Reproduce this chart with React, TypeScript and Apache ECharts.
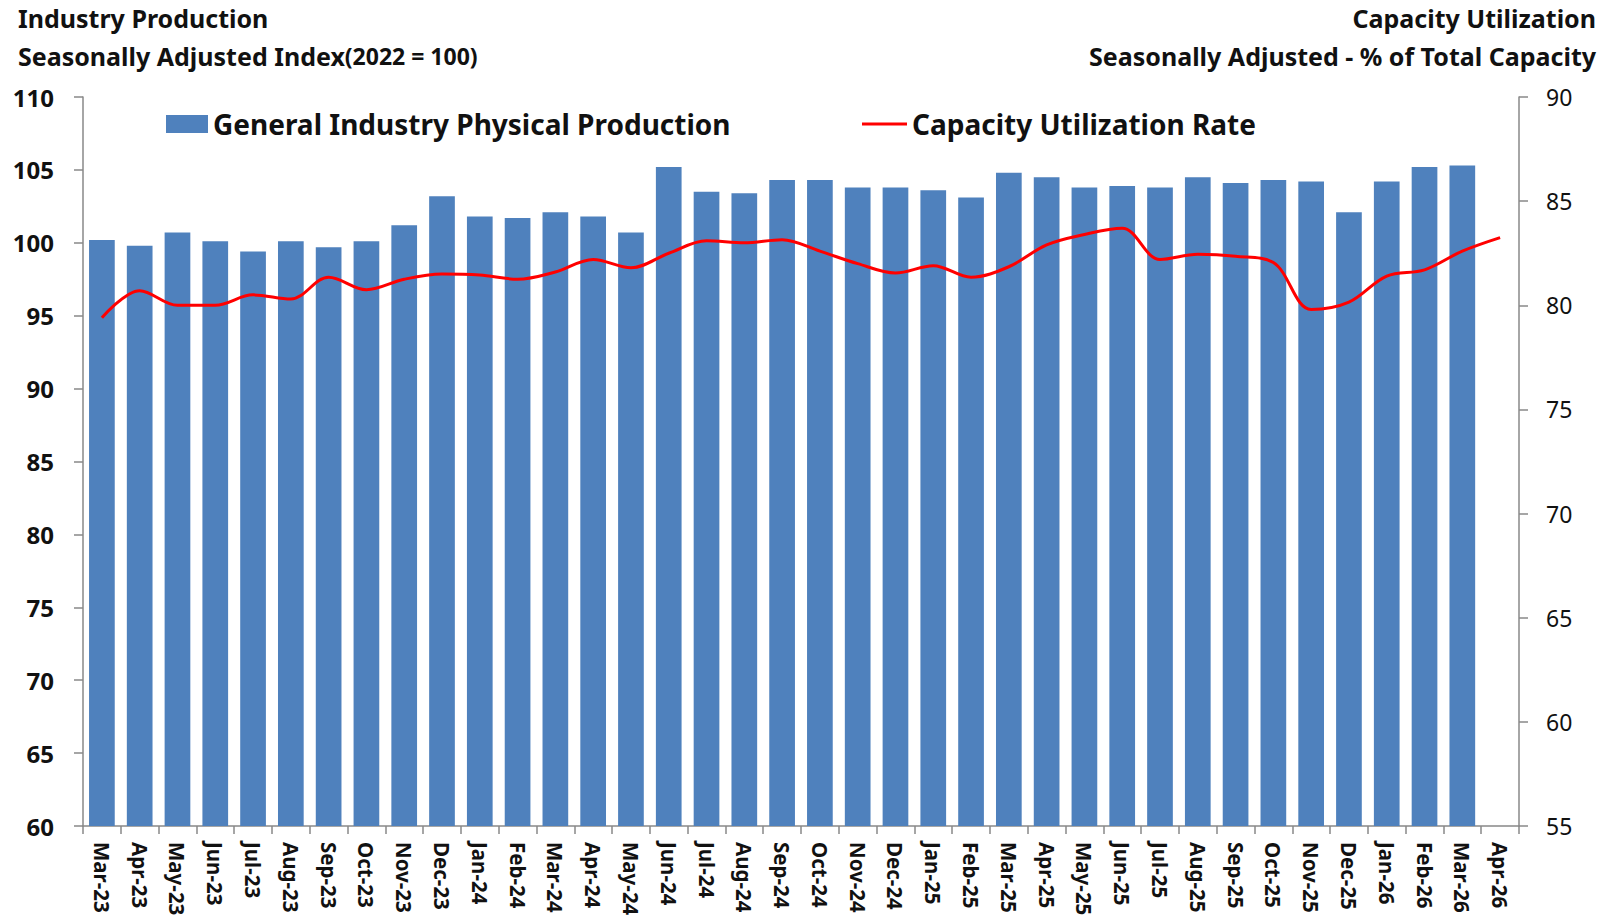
import React, { useEffect, useRef } from "react";
import * as echarts from "echarts";

const categories = [
  "Mar-23", "Apr-23", "May-23", "Jun-23", "Jul-23", "Aug-23", "Sep-23", "Oct-23", "Nov-23", "Dec-23",
  "Jan-24", "Feb-24", "Mar-24", "Apr-24", "May-24", "Jun-24", "Jul-24", "Aug-24", "Sep-24", "Oct-24",
  "Nov-24", "Dec-24", "Jan-25", "Feb-25", "Mar-25", "Apr-25", "May-25", "Jun-25", "Jul-25", "Aug-25",
  "Sep-25", "Oct-25", "Nov-25", "Dec-25", "Jan-26", "Feb-26", "Mar-26", "Apr-26",
];

const productionIndex = [
  100.2, 99.8, 100.7, 100.1, 99.4, 100.1, 99.7, 100.1, 101.2, 103.2,
  101.8, 101.7, 102.1, 101.8, 100.7, 105.2, 103.5, 103.4, 104.3, 104.3,
  103.8, 103.8, 103.6, 103.1, 104.8, 104.5, 103.8, 103.9, 103.8, 104.5,
  104.1, 104.3, 104.2, 102.1, 104.2, 105.2, 105.3, null,
];

const capacityUtilization = [
  79.4, 80.7, 80.0, 80.0, 80.5, 80.3, 81.35, 80.75, 81.25, 81.5,
  81.45, 81.25, 81.6, 82.2, 81.8, 82.5, 83.1, 83.0, 83.15, 82.6,
  82.0, 81.55, 81.9, 81.35, 81.85, 82.9, 83.4, 83.7, 82.2, 82.45,
  82.35, 82.05, 79.8, 80.15, 81.4, 81.7, 82.6, 83.25,
];

const leftTicks = { min: 60, max: 110, interval: 5 };
const rightTicks = { min: 55, max: 90, interval: 5 };

const barName = "General Industry Physical Production";
const lineName = "Capacity Utilization Rate";

const FONT = "'Noto Sans', 'Open Sans', sans-serif";

export default function App() {
  const ref = useRef<HTMLDivElement>(null);

  useEffect(() => {
    if (!ref.current) return;
    const chart = echarts.init(ref.current, null, { renderer: "svg" });
    const axisColor = "#888888";
    chart.setOption({
      animation: false,
      backgroundColor: "#ffffff",
      textStyle: { fontFamily: FONT },
      title: [
        {
          text: "Industry Production",
          left: 18,
          top: 5,
          padding: 0,
          textStyle: { fontFamily: FONT, fontSize: 25, fontWeight: "bold", color: "#111" },
        },
        {
          text: "{a|Seasonally Adjusted Index}{b|(2022 = 100)}",
          left: 18,
          top: 43,
          padding: 0,
          textStyle: {
            fontFamily: FONT,
            rich: {
              a: { fontFamily: FONT, fontSize: 25, fontWeight: "bold", color: "#111" },
              b: { fontFamily: FONT, fontSize: 23, fontWeight: "bold", color: "#111" },
            },
          },
        },
        {
          text: "Capacity Utilization",
          right: 15,
          top: 5,
          padding: 0,
          textStyle: { fontFamily: FONT, fontSize: 25, fontWeight: "bold", color: "#111" },
        },
        {
          text: "Seasonally Adjusted - % of Total Capacity",
          right: 15,
          top: 43,
          padding: 0,
          textStyle: { fontFamily: FONT, fontSize: 25, fontWeight: "bold", color: "#111" },
        },
      ],
      legend: [
        {
          data: [{ name: barName, icon: "rect" }],
          left: 166,
          top: 110,
          padding: 0,
          itemWidth: 42,
          itemHeight: 18,
          itemGap: 0,
          selectedMode: false,
          textStyle: { fontFamily: FONT, fontSize: 28, fontWeight: "bold", color: "#111" },
        },
        {
          data: [{ name: lineName, icon: "rect" }],
          left: 862,
          top: 110,
          padding: 0,
          itemWidth: 45,
          itemHeight: 3,
          itemGap: 0,
          selectedMode: false,
          textStyle: { fontFamily: FONT, fontSize: 28, fontWeight: "bold", color: "#111" },
        },
      ],
      grid: { left: 83, right: 92, top: 97, bottom: 96, containLabel: false },
      xAxis: {
        type: "category",
        data: categories,
        boundaryGap: true,
        axisLine: { show: true, lineStyle: { color: axisColor, width: 1.5 } },
        axisTick: { show: true, length: 8, alignWithLabel: false, lineStyle: { color: axisColor, width: 1.5 } },
        axisLabel: {
          interval: 0,
          rotate: -90,
          margin: 16,
          fontFamily: FONT,
          fontSize: 20.5,
          fontWeight: "bold",
          color: "#111",
        },
        splitLine: { show: false },
      },
      yAxis: [
        {
          type: "value",
          min: leftTicks.min,
          max: leftTicks.max,
          interval: leftTicks.interval,
          position: "left",
          axisLine: { show: true, lineStyle: { color: axisColor, width: 1.5 } },
          axisTick: { show: true, length: 9, lineStyle: { color: axisColor, width: 1.5 } },
          axisLabel: {
            margin: 29,
            fontFamily: FONT,
            fontSize: 24,
            fontWeight: "bold",
            color: "#111",
          },
          splitLine: { show: false },
        },
        {
          type: "value",
          min: rightTicks.min,
          max: rightTicks.max,
          interval: rightTicks.interval,
          position: "right",
          axisLine: { show: true, lineStyle: { color: axisColor, width: 1.5 } },
          axisTick: { show: true, length: 9, lineStyle: { color: axisColor, width: 1.5 } },
          axisLabel: {
            margin: 27,
            fontFamily: FONT,
            fontSize: 23,
            color: "#111",
          },
          splitLine: { show: false },
        },
      ],
      series: [
        {
          name: barName,
          type: "bar",
          yAxisIndex: 0,
          data: productionIndex,
          barCategoryGap: "32%",
          itemStyle: { color: "#4F81BD" },
        },
        {
          name: lineName,
          type: "line",
          yAxisIndex: 1,
          data: capacityUtilization,
          smooth: 0.35,
          symbol: "none",
          showSymbol: false,
          lineStyle: { color: "#FF0000", width: 3 },
          itemStyle: { color: "#FF0000" },
        },
      ],
    });
    return () => chart.dispose();
  }, []);

  return (
    <div
      ref={ref}
      style={{ position: "fixed", left: 0, top: 0, width: 1611, height: 922, background: "#fff" }}
    />
  );
}
